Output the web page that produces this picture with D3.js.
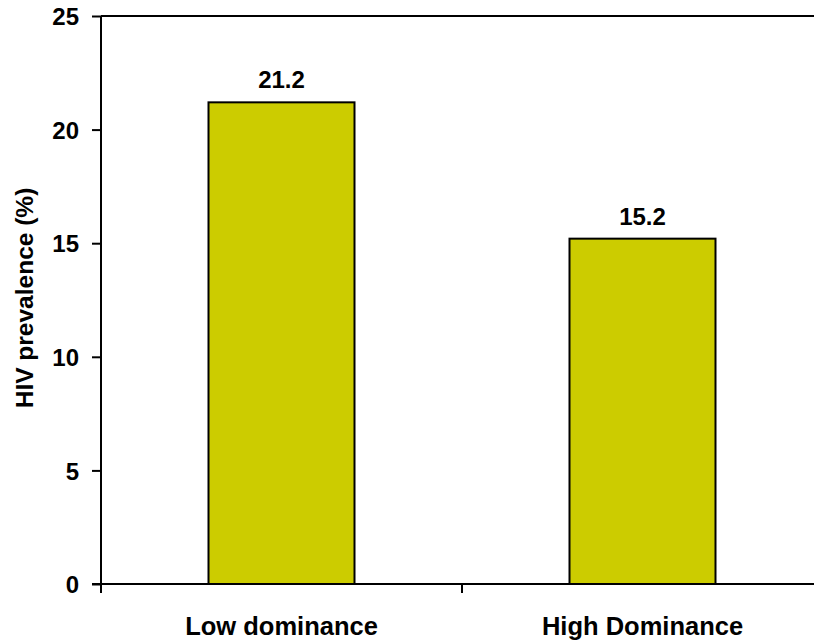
<!DOCTYPE html>
<html><head><meta charset="utf-8">
<script src="https://cdn.jsdelivr.net/npm/d3@7"></script>
<style>body{margin:0;background:#fff}svg{display:block}text{font-family:"Liberation Sans",Arial,sans-serif;font-weight:bold;fill:#000}</style>
</head><body>
<svg id="c" width="814" height="641"></svg>
<script>
const categories = ["Low dominance", "High Dominance"];
const values = [21.2, 15.2];
const valueLabels = ["21.2", "15.2"];
const yTicks = [0, 5, 10, 15, 20, 25];

const svg = d3.select("#c");
const mLeft = 101, mRight = 823, mTop = 16, mBottom = 584;
const x = d3.scaleBand().domain(categories).range([mLeft, mRight]).paddingInner(0).paddingOuter(0);
const y = d3.scaleLinear().domain([0, 25]).range([mBottom, mTop]);
const barW = 146;

// frame top
svg.append("line").attr("x1", mLeft).attr("x2", 814).attr("y1", mTop).attr("y2", mTop)
  .attr("stroke", "#000").attr("stroke-width", 2);

// bars
svg.selectAll("rect.bar").data(values).join("rect")
  .attr("class", "bar")
  .attr("x", (d, i) => x(categories[i]) + x.bandwidth() / 2 - barW / 2)
  .attr("width", barW)
  .attr("y", d => y(d))
  .attr("height", d => y(0) - y(d))
  .attr("fill", "#CCCC00").attr("stroke", "#000").attr("stroke-width", 2);

// value labels
svg.selectAll("text.val").data(values).join("text")
  .attr("class", "val")
  .attr("x", (d, i) => x(categories[i]) + x.bandwidth() / 2)
  .attr("y", d => y(d) - 14)
  .attr("text-anchor", "middle").style("font-size", "24px")
  .text((d, i) => valueLabels[i]);

// y axis
const yAxis = d3.axisLeft(y).tickValues(yTicks).tickSize(9).tickPadding(13).tickFormat(d3.format("d"));
const gy = svg.append("g").attr("transform", `translate(${mLeft},0)`).call(yAxis);
gy.select(".domain").attr("stroke", "#000").attr("stroke-width", 2).attr("d", `M0,${mTop}V${mBottom}`);
gy.selectAll(".tick line").attr("stroke", "#000").attr("stroke-width", 2);
gy.selectAll(".tick text").style("font-size", "24px").attr("font-weight", "bold").attr("fill", "#000").attr("dy", "0.36em");

// x axis line
svg.append("line").attr("x1", mLeft - 9).attr("x2", 814).attr("y1", mBottom).attr("y2", mBottom)
  .attr("stroke", "#000").attr("stroke-width", 2);
// x ticks at band boundaries
const bounds = [mLeft, x(categories[1])];
svg.selectAll("line.xt").data(bounds).join("line")
  .attr("class", "xt")
  .attr("x1", d => d).attr("x2", d => d).attr("y1", mBottom).attr("y2", mBottom + 9)
  .attr("stroke", "#000").attr("stroke-width", 2);
// x labels
svg.selectAll("text.cat").data(categories).join("text")
  .attr("class", "cat")
  .attr("x", d => x(d) + x.bandwidth() / 2)
  .attr("y", 635)
  .attr("text-anchor", "middle").style("font-size", "25.5px")
  .text(d => d);

// y title
svg.append("text")
  .attr("transform", `translate(33,298) rotate(-90)`)
  .attr("text-anchor", "middle").style("font-size", "24.5px")
  .text("HIV prevalence (%)");
</script>
</body></html>
